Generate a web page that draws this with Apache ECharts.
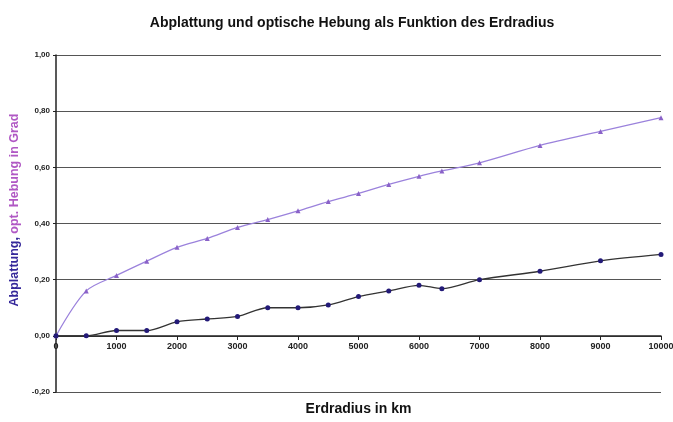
<!DOCTYPE html>
<html>
<head>
<meta charset="utf-8">
<script src="https://cdn.jsdelivr.net/npm/echarts@6/dist/echarts.min.js"></script>
<style>
  html, body { margin: 0; padding: 0; background: #fff; }
  #chart { width: 673px; height: 422px; }
</style>
</head>
<body>
<div id="chart"></div>
<script>
// Erdradius in km
const radius = [0, 500, 1000, 1500, 2000, 2500, 3000, 3500, 4000, 4500, 5000, 5500, 6000, 6378, 7000, 8000, 9000, 10000];
// optische Hebung in Grad
const hebung = [0, 0.16, 0.215, 0.266, 0.315, 0.347, 0.386, 0.414, 0.445, 0.478, 0.507, 0.539, 0.568, 0.587, 0.616, 0.678, 0.728, 0.777];
// Abplattung
const abplattung = [0, 0, 0.019, 0.019, 0.05, 0.06, 0.069, 0.10, 0.10, 0.11, 0.14, 0.16, 0.18, 0.168, 0.20, 0.23, 0.267, 0.29];

window.onload = function () {
    const chart = echarts.init(document.querySelector("#chart"));

    function pairs(ys) {
        return radius.map((x, i) => [x, ys[i]]);
    }

    const font = "Arial, 'Liberation Sans', sans-serif";

    const option = {
        backgroundColor: '#fff',
        animation: false,
        title: {
            text: 'Abplattung und optische Hebung als Funktion des Erdradius',
            left: 347,
            textAlign: 'center',
            top: 11,
            textStyle: {fontFamily: font, fontSize: 14, fontWeight: 'bold', color: '#111'}
        },
        grid: {left: 56, right: 12, top: 55, bottom: 30, outerBoundsMode: 'none'},
        xAxis: {
            type: 'value',
            min: 0,
            max: 10000,
            interval: 1000,
            // x-Achse liegt bei 0,00 (eine Stufe über dem unteren Rand)
            offset: -56,
            name: 'Erdradius in km',
            nameLocation: 'middle',
            nameGap: 66,
            nameTextStyle: {fontFamily: font, fontSize: 14, fontWeight: 'bold', color: '#111'},
            axisLine: {onZero: false, lineStyle: {color: '#222', width: 1.5}},
            axisTick: {show: true, length: 4, lineStyle: {color: '#222'}},
            axisLabel: {
                fontFamily: font, fontSize: 9, fontWeight: 'bold', color: '#222', margin: 6,
                formatter: v => String(v)
            },
            splitLine: {show: false}
        },
        yAxis: {
            type: 'value',
            min: -0.2,
            max: 1.0,
            interval: 0.2,
            name: '{a|Abplattung,} {b|opt. Hebung in Grad}',
            nameLocation: 'middle',
            nameGap: 30,
            nameTextStyle: {
                padding: [0, 0, 0, 27],
                rich: {
                    a: {fontFamily: font, fontSize: 12.5, fontWeight: 'bold', color: '#35289a'},
                    b: {fontFamily: font, fontSize: 12.5, fontWeight: 'bold', color: '#b058c4'}
                }
            },
            axisLine: {show: true, lineStyle: {color: '#222', width: 1.5}},
            axisTick: {show: true, length: 3, lineStyle: {color: '#222'}},
            axisLabel: {
                fontFamily: font, fontSize: 8, fontWeight: 'bold', color: '#222', margin: 6,
                formatter: v => v.toFixed(2).replace('.', ',')
            },
            splitLine: {show: true, lineStyle: {color: '#555', width: 1.2}}
        },
        series: [
            {
                name: 'Hebung',
                type: 'line',
                data: pairs(hebung),
                smooth: 0.3,
                symbol: 'triangle',
                symbolSize: 5,
                lineStyle: {color: '#9b82dc', width: 1.3},
                itemStyle: {color: '#8a62c8'}
            },
            {
                name: 'Abplattung',
                type: 'line',
                data: pairs(abplattung),
                smooth: 0.3,
                symbol: 'circle',
                symbolSize: 5,
                lineStyle: {color: '#333', width: 1.3},
                itemStyle: {color: '#231a78'}
            }
        ]
    };

    chart.setOption(option);
};
</script>
</body>
</html>
